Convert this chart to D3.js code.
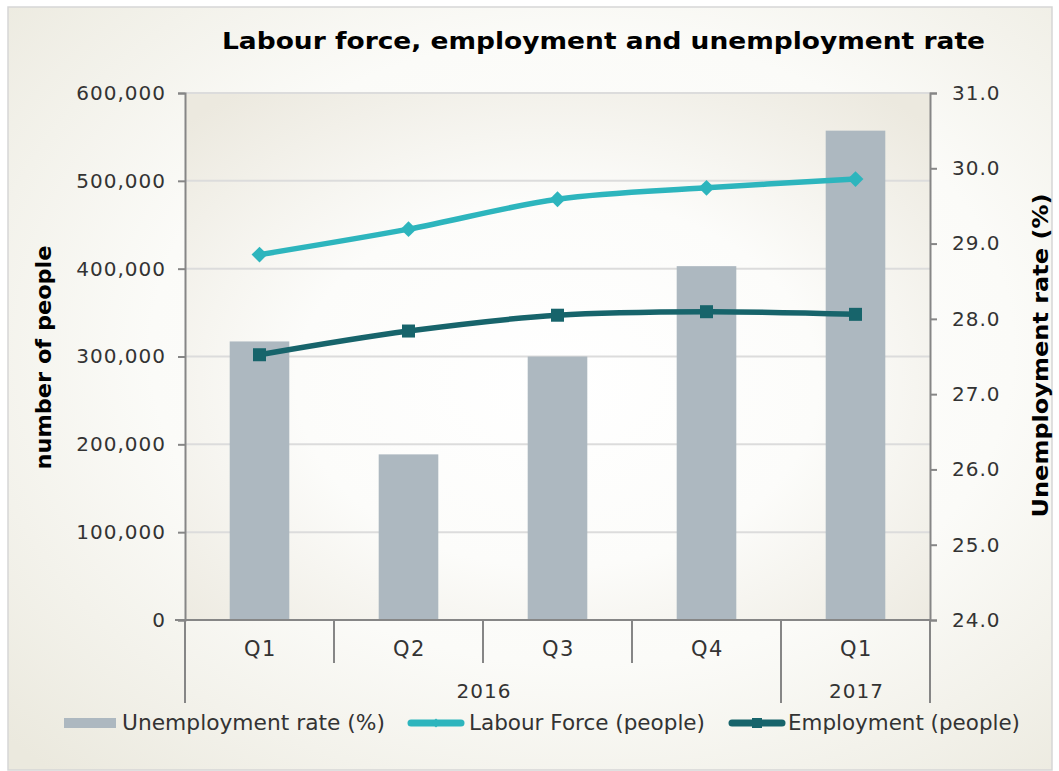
<!DOCTYPE html>
<html>
<head>
<meta charset="utf-8">
<script src="https://cdn.jsdelivr.net/npm/d3@7"></script>
<style>
  body { margin: 0; background: #fff; }
  text { font-family: "DejaVu Sans", Verdana, sans-serif; fill: #333; }
</style>
</head>
<body>
<div id="chart"></div>
<script>
var svgWidth = 1059;
var svgHeight = 771;

// chart data
var quarters = ["Q1", "Q2", "Q3", "Q4", "Q1"];
var years = ["2016", "2016", "2016", "2016", "2017"];
var unemploymentRate = [27.7, 26.2, 27.5, 28.7, 30.5];
var labourForce = [416000, 445000, 479000, 492000, 502000];
var employment = [302000, 329000, 347000, 351000, 348000];
var leftTicks = [0, 100000, 200000, 300000, 400000, 500000, 600000];
var rightTicks = [24, 25, 26, 27, 28, 29, 30, 31];

var margin = { top: 93, right: 129, bottom: 151, left: 185 };
var width = svgWidth - margin.left - margin.right;
var height = svgHeight - margin.top - margin.bottom;

var svg = d3.select("#chart")
  .append("svg")
  .attr("width", svgWidth)
  .attr("height", svgHeight);

var defs = svg.append("defs");
var bgGrad = defs.append("radialGradient")
  .attr("id", "bgGrad")
  .attr("cx", "55%").attr("cy", "45%").attr("r", "75%");
bgGrad.append("stop").attr("offset", "0%").attr("stop-color", "#ffffff");
bgGrad.append("stop").attr("offset", "55%").attr("stop-color", "#fbfbf8");
bgGrad.append("stop").attr("offset", "100%").attr("stop-color", "#ebe9de");

var plotGrad = defs.append("radialGradient")
  .attr("id", "plotGrad")
  .attr("cx", "50%").attr("cy", "55%").attr("r", "70%");
plotGrad.append("stop").attr("offset", "0%").attr("stop-color", "#ffffff");
plotGrad.append("stop").attr("offset", "50%").attr("stop-color", "#fcfcfa");
plotGrad.append("stop").attr("offset", "100%").attr("stop-color", "#ece9df");

// chart background + frame
svg.append("rect")
  .attr("x", 8).attr("y", 7)
  .attr("width", 1044).attr("height", 763)
  .attr("fill", "url(#bgGrad)")
  .attr("stroke", "#d6d6d6")
  .attr("stroke-width", 1.5);

// title
svg.append("text")
  .attr("x", 222).attr("y", 49)
  .attr("textLength", 763)
  .attr("lengthAdjust", "spacingAndGlyphs")
  .style("font-size", "23px")
  .style("font-weight", "bold")
  .style("fill", "#000")
  .text("Labour force, employment and unemployment rate");

var chartGroup = svg.append("g")
  .attr("transform", `translate(${margin.left}, ${margin.top})`);

chartGroup.append("rect")
  .attr("width", width).attr("height", height)
  .attr("fill", "url(#plotGrad)");

// scales
var xScale = d3.scaleBand()
  .domain(d3.range(quarters.length))
  .range([0, width])
  .paddingInner(0.6)
  .paddingOuter(0.3);

var xCenter = i => xScale(i) + xScale.bandwidth() / 2;
var step = width / quarters.length;

var yLeft = d3.scaleLinear().domain([0, 600000]).range([height, 0]);
var yRight = d3.scaleLinear().domain([24, 31]).range([height, 0]);

// gridlines
chartGroup.selectAll(".grid")
  .data(leftTicks.slice(1))
  .enter()
  .append("line")
  .attr("x1", 0).attr("x2", width)
  .attr("y1", d => yLeft(d)).attr("y2", d => yLeft(d))
  .attr("stroke", "#dcdcdc")
  .attr("stroke-width", 2);

// bars (right axis)
chartGroup.selectAll(".bar")
  .data(unemploymentRate)
  .enter()
  .append("rect")
  .attr("x", (d, i) => xScale(i))
  .attr("width", xScale.bandwidth())
  .attr("y", d => yRight(d))
  .attr("height", d => height - yRight(d))
  .attr("fill", "#adb8c0");

// left axis
var leftAxis = d3.axisLeft(yLeft)
  .tickValues(leftTicks)
  .tickSize(7)
  .tickPadding(12)
  .tickFormat(d3.format(","));
var gLeft = chartGroup.append("g").call(leftAxis);

// right axis
var rightAxis = d3.axisRight(yRight)
  .tickValues(rightTicks)
  .tickSize(7)
  .tickPadding(15)
  .tickFormat(d3.format(".1f"));
var gRight = chartGroup.append("g")
  .attr("transform", `translate(${width}, 0)`)
  .call(rightAxis);

[gLeft, gRight].forEach(function(g) {
  g.select(".domain").attr("stroke", "#868686").attr("stroke-width", 2);
  g.selectAll(".tick line").attr("stroke", "#868686").attr("stroke-width", 2);
  g.selectAll(".tick text")
    .style("font-family", "DejaVu Sans, sans-serif")
    .style("font-size", "20px")
    .style("letter-spacing", "1px")
    .style("fill", "#333");
});

// bottom category axis
var xAxisGroup = chartGroup.append("g")
  .attr("transform", `translate(0, ${height})`);

xAxisGroup.append("line")
  .attr("x1", -10).attr("x2", width)
  .attr("stroke", "#868686").attr("stroke-width", 2);

// separators between quarters
var boundaries = d3.range(quarters.length + 1);
xAxisGroup.selectAll(".sep")
  .data(boundaries)
  .enter()
  .append("line")
  .attr("x1", d => d * step).attr("x2", d => d * step)
  .attr("y1", 0)
  .attr("y2", d => (d === 0 || d === quarters.length || years[d] !== years[d - 1]) ? 83 : 43)
  .attr("stroke", "#868686").attr("stroke-width", 2);

xAxisGroup.selectAll(".qlabel")
  .data(quarters)
  .enter()
  .append("text")
  .attr("x", (d, i) => xCenter(i))
  .attr("dx", 1)
  .attr("y", 36)
  .attr("text-anchor", "middle")
  .style("font-size", "21px")
  .style("letter-spacing", "1.5px")
  .text(d => d);

// year labels centered over their groups
var yearGroups = d3.groups(d3.range(years.length), i => years[i]);
xAxisGroup.selectAll(".ylabel")
  .data(yearGroups)
  .enter()
  .append("text")
  .attr("x", d => (d3.min(d[1]) + d3.max(d[1]) + 1) / 2 * step)
  .attr("dx", 1)
  .attr("y", 78)
  .attr("text-anchor", "middle")
  .style("font-size", "20px")
  .style("letter-spacing", "1px")
  .text(d => d[0]);

// lines
var line = d3.line()
  .x((d, i) => xCenter(i))
  .curve(d3.curveCatmullRom.alpha(0.5));

chartGroup.append("path")
  .datum(labourForce)
  .attr("d", line.y(d => yLeft(d)))
  .attr("fill", "none")
  .attr("stroke", "#2db5bd")
  .attr("stroke-width", 5.5);

chartGroup.selectAll(".lfMark")
  .data(labourForce)
  .enter()
  .append("path")
  .attr("d", d3.symbol().type(d3.symbolDiamond2).size(160))
  .attr("transform", (d, i) => `translate(${xCenter(i)}, ${yLeft(d)})`)
  .attr("fill", "#2db5bd");

chartGroup.append("path")
  .datum(employment)
  .attr("d", line.y(d => yLeft(d)))
  .attr("fill", "none")
  .attr("stroke", "#17646b")
  .attr("stroke-width", 5.5);

chartGroup.selectAll(".empMark")
  .data(employment)
  .enter()
  .append("rect")
  .attr("x", (d, i) => xCenter(i) - 6.5)
  .attr("y", d => yLeft(d) - 6.5)
  .attr("width", 13).attr("height", 13)
  .attr("fill", "#17646b");

// axis titles
svg.append("text")
  .attr("transform", `translate(51, ${margin.top + height / 2 + 1}) rotate(-90)`)
  .attr("text-anchor", "middle")
  .attr("textLength", 224)
  .attr("lengthAdjust", "spacingAndGlyphs")
  .style("font-size", "21px")
  .style("font-weight", "bold")
  .style("fill", "#000")
  .text("number of people");

svg.append("text")
  .attr("transform", `translate(1048, ${margin.top + height / 2 - 1}) rotate(-90)`)
  .attr("text-anchor", "middle")
  .attr("textLength", 324)
  .attr("lengthAdjust", "spacingAndGlyphs")
  .style("font-size", "21px")
  .style("font-weight", "bold")
  .style("fill", "#000")
  .text("Unemployment rate (%)");

// legend
var legend = svg.append("g").attr("transform", "translate(0, 723)");

legend.append("rect")
  .attr("x", 64).attr("y", -5)
  .attr("width", 52).attr("height", 10)
  .attr("fill", "#adb8c0");
legend.append("text")
  .attr("x", 122).attr("y", 7)
  .attr("textLength", 263)
  .attr("lengthAdjust", "spacingAndGlyphs")
  .style("font-size", "21px")
  .text("Unemployment rate (%)");

legend.append("line")
  .attr("x1", 411).attr("x2", 461)
  .attr("stroke", "#2db5bd").attr("stroke-width", 7)
  .attr("stroke-linecap", "round");
legend.append("path")
  .attr("d", d3.symbol().type(d3.symbolDiamond2).size(50))
  .attr("transform", "translate(436, 0)")
  .attr("fill", "#2db5bd");
legend.append("text")
  .attr("x", 469).attr("y", 7)
  .attr("textLength", 236)
  .attr("lengthAdjust", "spacingAndGlyphs")
  .style("font-size", "21px")
  .text("Labour Force (people)");

legend.append("line")
  .attr("x1", 732).attr("x2", 782)
  .attr("stroke", "#17646b").attr("stroke-width", 7)
  .attr("stroke-linecap", "round");
legend.append("rect")
  .attr("x", 752).attr("y", -5)
  .attr("width", 10).attr("height", 10)
  .attr("fill", "#17646b");
legend.append("text")
  .attr("x", 788).attr("y", 7)
  .attr("textLength", 232)
  .attr("lengthAdjust", "spacingAndGlyphs")
  .style("font-size", "21px")
  .text("Employment (people)");
</script>
</body>
</html>
